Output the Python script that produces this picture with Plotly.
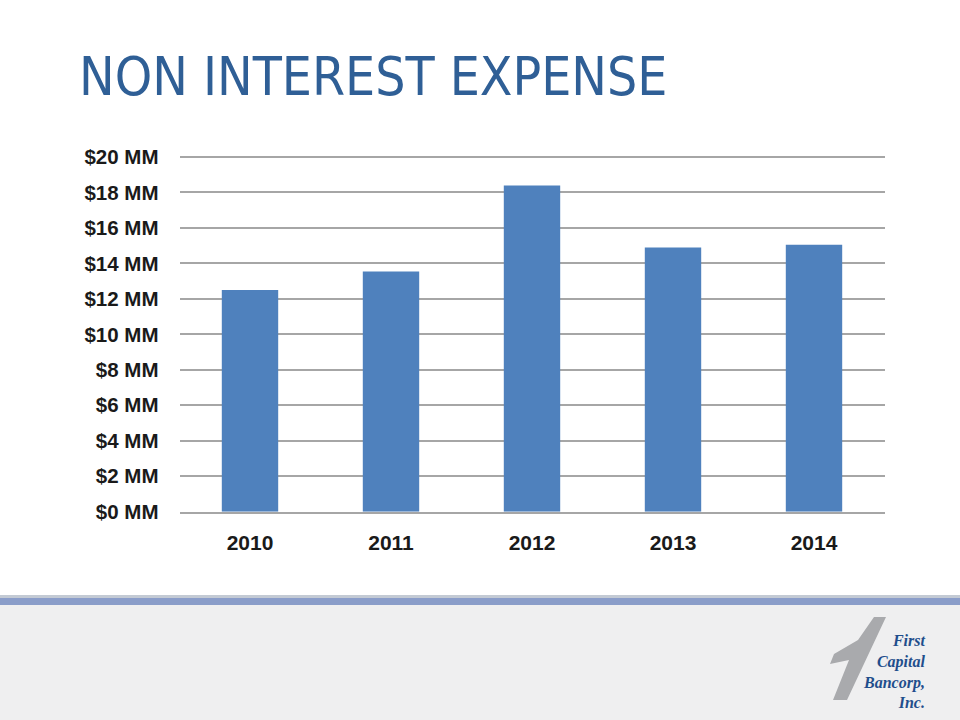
import plotly.graph_objects as go

years = ["2010", "2011", "2012", "2013", "2014"]
expense_mm = [12.5, 13.55, 18.4, 14.9, 15.05]
tick_vals = [0, 2, 4, 6, 8, 10, 12, 14, 16, 18, 20]
tick_text = ["$0 MM", "$2 MM", "$4 MM", "$6 MM", "$8 MM", "$10 MM",
             "$12 MM", "$14 MM", "$16 MM", "$18 MM", "$20 MM"]

W, H = 960, 720


def py(y):
    return (H - y) / H


def px(x):
    return x / W


fig = go.Figure()
fig.add_trace(go.Bar(
    x=years, y=expense_mm, width=0.4,
    marker=dict(color="#4F81BD", line=dict(width=0)),
    hoverinfo="x+y",
))

shapes = [
    # footer background
    dict(type="rect", xref="paper", yref="paper", x0=0, x1=1, y0=0, y1=py(598),
         fillcolor="#EFEFF0", line=dict(width=0), layer="below"),
    dict(type="rect", xref="paper", yref="paper", x0=0, x1=1, y0=py(598), y1=py(595),
         fillcolor="#C3CAD4", line=dict(width=0), layer="below"),
    dict(type="rect", xref="paper", yref="paper", x0=0, x1=1, y0=py(605), y1=py(598),
         fillcolor="#8A9DC9", line=dict(width=0), layer="below"),
    # logo "1" shape
    dict(type="path", xref="paper", yref="paper",
         path=(f"M {px(874)},{py(617)} L {px(886)},{py(617)} L {px(847)},{py(700)} "
               f"L {px(833)},{py(700)} L {px(849)},{py(660)} L {px(830)},{py(664)} "
               f"L {px(834)},{py(654)} L {px(858)},{py(640)} Z"),
         fillcolor="#A9AAAD", line=dict(width=0), layer="below"),
]

annotations = [
    dict(text="NON INTEREST EXPENSE", xref="paper", yref="paper",
         x=px(77), y=py(77), xanchor="left", yanchor="middle", showarrow=False,
         font=dict(family="Liberation Sans Narrow, DejaVu Sans Condensed, Roboto, sans-serif",
                   size=53, color="#2F5F96")),
    dict(text="<b><i>First<br>Capital<br>Bancorp,<br>Inc.</i></b>", xref="paper", yref="paper",
         x=px(927), y=py(671), xanchor="right", yanchor="middle", align="right",
         showarrow=False,
         font=dict(family="Liberation Serif, DejaVu Serif, serif", size=16, color="#1F4E8C")),
]

fig.update_layout(
    width=W, height=H,
    margin=dict(l=0, r=0, t=0, b=0, autoexpand=False),
    paper_bgcolor="white", plot_bgcolor="white",
    showlegend=False,
    bargap=0.6,
    shapes=shapes,
    annotations=annotations,
    xaxis=dict(
        domain=[px(179.5), px(884.5)],
        automargin=False,
        showgrid=False, showline=True, linecolor="#A6A6A6", linewidth=1.5,
        ticks="", ticklabelstandoff=11,
        tickfont=dict(family="Liberation Sans, Arial, sans-serif", size=21, color="#1A1A1A",
                      weight="bold"),
    ),
    yaxis=dict(
        domain=[py(511.7), py(511.7 - 20.3 * 17.735)],
        range=[0, 20.3],
        automargin=False,
        tickvals=tick_vals, ticktext=tick_text,
        showgrid=True, gridcolor="#A6A6A6", gridwidth=1.5,
        zeroline=False, showline=False, ticks="", ticklabelstandoff=20,
        tickfont=dict(family="Liberation Sans, Arial, sans-serif", size=20.5, color="#1A1A1A",
                      weight="bold"),
    ),
)

fig.write_html("out.html")
